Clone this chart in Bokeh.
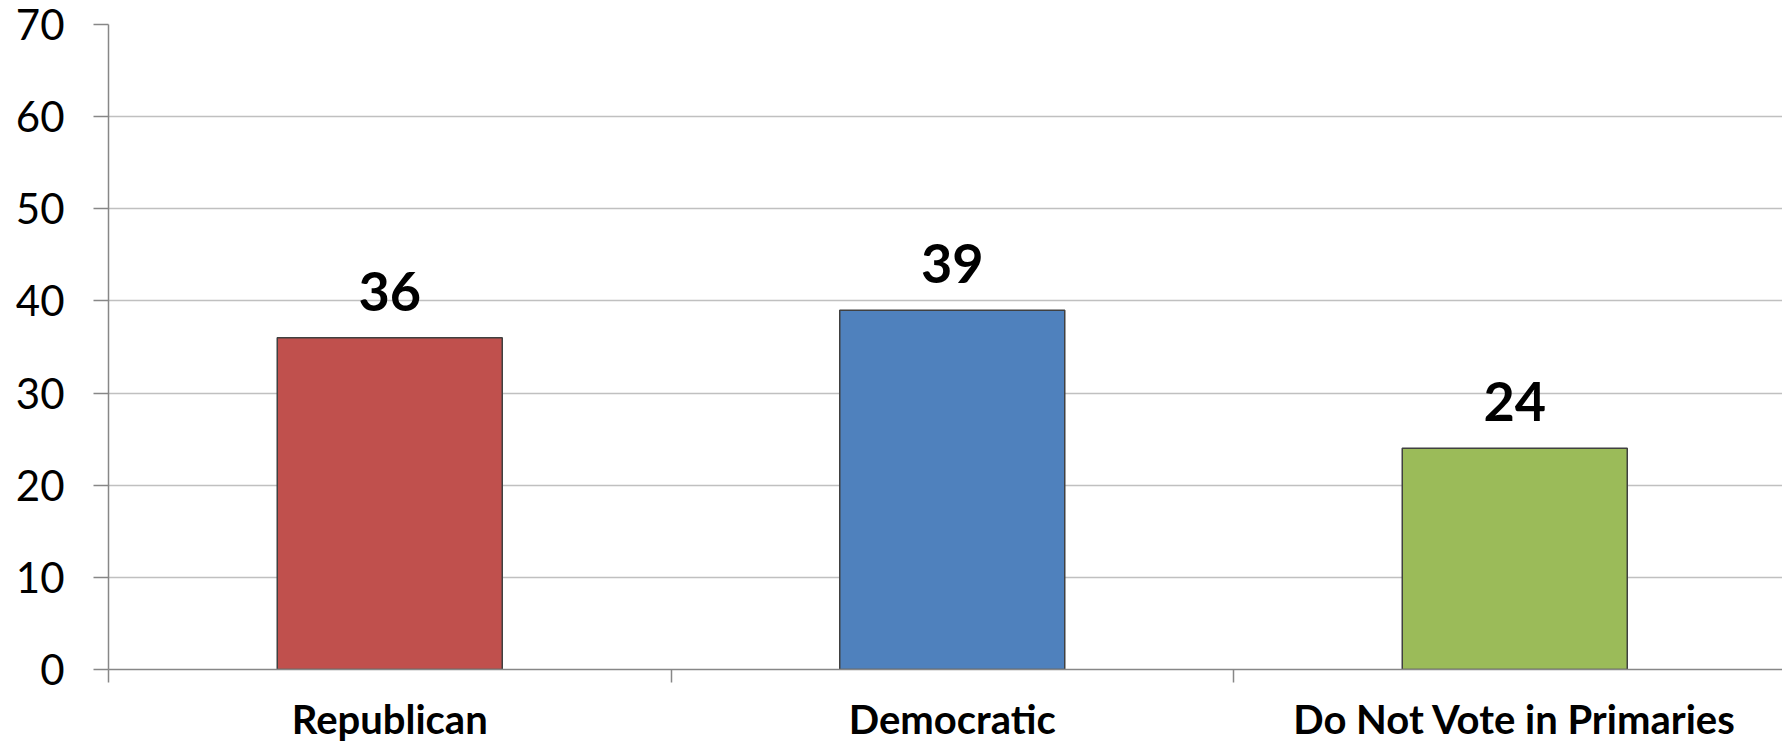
from bokeh.plotting import figure
from bokeh.models import ColumnDataSource, FixedTicker, LabelSet, Range1d
from bokeh.core.properties import value
from bokeh.embed import file_html
from bokeh.resources import INLINE

categories = ["Republican", "Democratic", "Do Not Vote in Primaries"]
values = [36, 39, 24]
colors = ["#C0504D", "#4F81BD", "#9BBB59"]
y_ticks = [0, 10, 20, 30, 40, 50, 60, 70]

xpos = [i + 0.5 for i in range(len(categories))]
src = ColumnDataSource(dict(x=xpos, top=values, color=colors,
                            label=[str(v) for v in values]))

W, H = 1782, 745
p = figure(width=W, height=H, output_backend="svg", toolbar_location=None,
           x_range=Range1d(0, 2.976), y_range=Range1d(0, 70),
           min_border_left=108, min_border_top=24, min_border_right=0,
           min_border_bottom=76)
p.outline_line_color = None
p.background_fill_color = "white"
p.border_fill_color = "white"

p.vbar(x="x", top="top", width=0.4, bottom=0, fill_color="color",
       line_color="#404040", line_width=1.5, source=src)

labels = LabelSet(x="x", y="top", text="label", source=src,
                  text_align="center", text_baseline="alphabetic",
                  y_offset=27, text_font=value("Lato"),
                  text_font_style="bold", text_font_size="54px",
                  text_color="black")
p.add_layout(labels)

# y axis
p.yaxis.ticker = FixedTicker(ticks=y_ticks)
p.yaxis.axis_line_color = "#878787"
p.yaxis.axis_line_width = 1.5
p.yaxis.major_tick_line_color = "#878787"
p.yaxis.major_tick_line_width = 1.5
p.yaxis.major_tick_out = 15
p.yaxis.major_tick_in = 0
p.yaxis.minor_tick_line_color = None
p.yaxis.major_label_standoff = 29
p.yaxis.major_label_text_font = "Lato"
p.yaxis.major_label_text_font_size = "42px"
p.yaxis.major_label_text_color = "black"

# x axis
p.xaxis.ticker = FixedTicker(ticks=xpos, minor_ticks=[0, 1, 2, 3])
p.xaxis.major_label_overrides = {x: c for x, c in zip(xpos, categories)}
p.xaxis.axis_line_color = "#878787"
p.xaxis.axis_line_width = 1.5
p.xaxis.major_tick_line_color = None
p.xaxis.major_tick_out = 0
p.xaxis.minor_tick_line_color = "#878787"
p.xaxis.minor_tick_line_width = 1.5
p.xaxis.minor_tick_out = 13
p.xaxis.minor_tick_in = 0
p.xaxis.major_label_standoff = 12
p.xaxis.major_label_text_font = "Lato"
p.xaxis.major_label_text_font_style = "bold"
p.xaxis.major_label_text_font_size = "40px"
p.xaxis.major_label_text_color = "black"

p.xgrid.grid_line_color = None
p.ygrid.ticker = FixedTicker(ticks=y_ticks)
p.ygrid.grid_line_color = "#c0c0c0"
p.ygrid.grid_line_width = 1.5

open("out.html", "w").write(file_html(p, INLINE))
